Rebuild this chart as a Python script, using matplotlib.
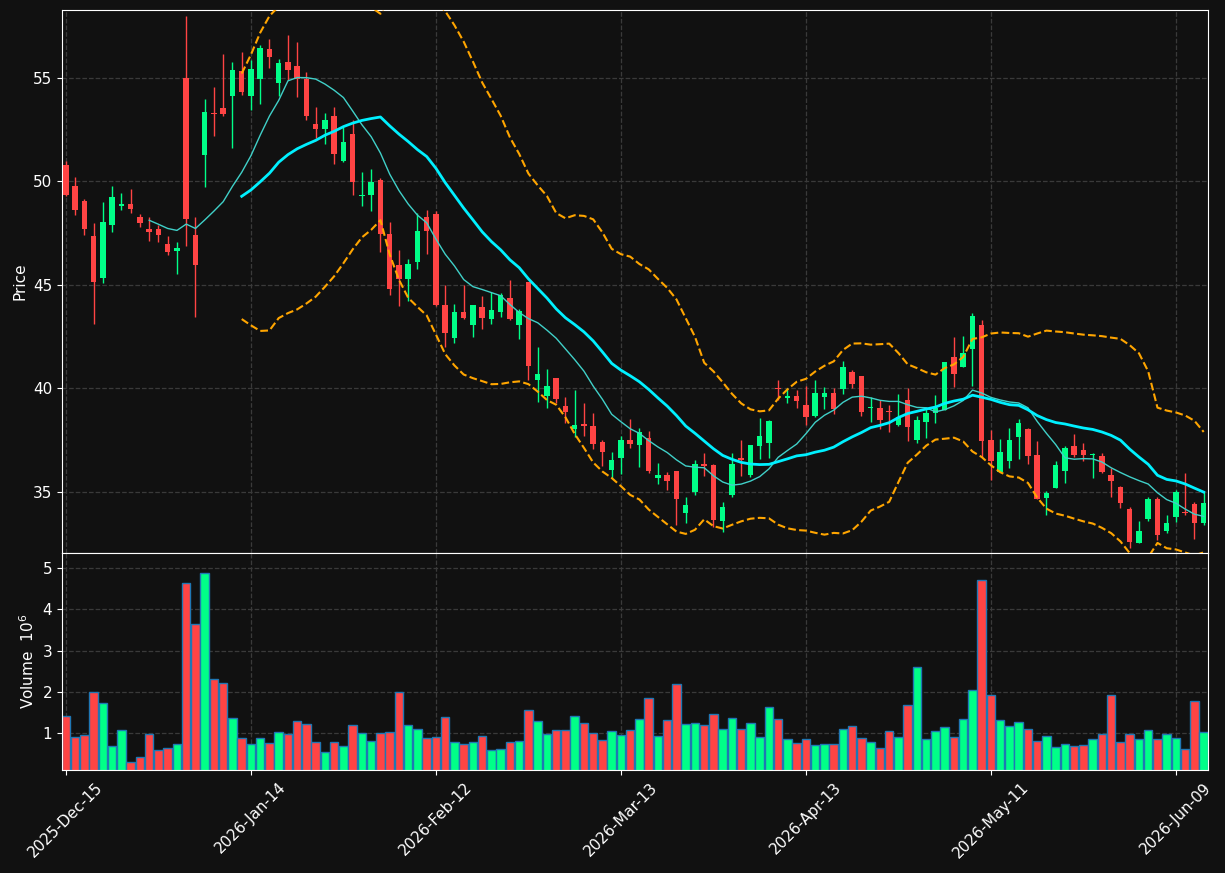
import matplotlib
matplotlib.use("Agg")
import matplotlib.pyplot as plt
import numpy as np
import pandas as pd

# trading days (NYSE calendar) starting 2025-12-15
holidays = ["2025-12-25", "2026-01-01", "2026-01-19", "2026-02-16", "2026-04-03", "2026-05-25"]
dates = pd.bdate_range("2025-12-15", "2026-06-12")
dates = dates[~dates.isin(pd.to_datetime(holidays))]

opens = [50.77, 49.80, 49.03, 47.38, 45.32, 47.88, 48.80, 48.93, 48.30, 47.72,
         47.72, 47.00, 46.63, 55.00, 47.42, 51.26, 53.31, 53.55, 54.11, 55.34,
         54.11, 54.94, 56.42, 54.74, 55.76, 55.60, 54.94, 52.79, 52.55, 53.18,
         50.97, 52.31, 49.28, 49.33, 50.09, 47.48, 45.98, 45.27, 46.10, 48.30,
         48.42, 44.03, 42.45, 43.69, 43.08, 43.93, 43.37, 43.69, 44.36, 43.08,
         45.14, 40.40, 39.63, 40.50, 39.15, 38.02, 38.28, 38.18, 37.41, 36.05,
         36.66, 37.50, 37.28, 37.60, 35.68, 35.81, 36.01, 33.98, 34.99, 36.34,
         36.30, 33.59, 34.85, 36.63, 35.83, 37.23, 37.38, 39.98, 39.55, 39.63,
         39.19, 38.68, 39.60, 39.76, 39.98, 40.79, 40.60, 39.07, 39.05, 38.90,
         38.23, 39.44, 37.50, 38.39, 38.82, 38.95, 41.51, 41.05, 41.92, 43.06,
         37.50, 35.97, 36.51, 37.63, 38.04, 36.78, 34.72, 35.20, 36.02, 37.21,
         37.02, 36.76, 36.73, 35.81, 35.23, 34.17, 32.54, 33.69, 34.65, 33.09,
         33.77, 34.02, 34.41, 33.51]
highs = [50.97, 50.22, 49.15, 48.00, 49.01, 49.78, 49.46, 49.64, 48.43, 48.30,
         47.88, 47.35, 47.08, 58.01, 48.29, 53.99, 54.57, 56.16, 55.77, 56.24,
         55.89, 56.61, 56.88, 55.92, 57.05, 56.74, 55.29, 53.60, 53.31, 53.60,
         52.63, 52.99, 50.46, 50.60, 50.17, 48.04, 46.71, 46.27, 48.48, 48.64,
         48.55, 45.02, 44.06, 45.02, 44.05, 44.46, 44.67, 44.59, 45.23, 43.82,
         45.16, 42.01, 40.92, 40.51, 39.57, 39.92, 39.28, 38.82, 37.50, 36.94,
         37.69, 38.50, 38.07, 37.94, 36.38, 35.97, 36.01, 34.77, 36.54, 36.86,
         36.34, 34.49, 36.86, 37.50, 37.27, 38.55, 38.47, 40.40, 40.00, 39.92,
         40.10, 40.43, 40.05, 40.00, 41.30, 40.89, 40.60, 39.57, 39.44, 39.18,
         39.71, 40.00, 38.68, 39.07, 39.69, 41.27, 42.46, 42.51, 43.62, 43.30,
         37.99, 37.54, 38.07, 38.52, 38.08, 37.44, 35.05, 36.51, 37.23, 37.78,
         37.34, 36.86, 36.86, 36.14, 35.28, 34.25, 33.59, 34.77, 34.77, 33.88,
         35.09, 35.89, 34.52, 35.01]
lows = [49.28, 48.37, 47.40, 43.09, 45.10, 47.56, 48.62, 48.49, 47.79, 47.11,
        47.08, 46.43, 45.53, 46.90, 43.43, 49.73, 52.20, 53.18, 51.62, 54.18,
        53.44, 53.74, 55.48, 54.15, 54.92, 54.08, 52.99, 52.10, 51.83, 50.85,
        50.95, 49.36, 48.80, 48.56, 46.59, 44.50, 43.97, 44.24, 45.77, 46.50,
        44.00, 42.01, 42.17, 43.33, 42.46, 42.85, 43.11, 43.43, 43.30, 42.37,
        40.40, 39.36, 39.03, 39.28, 38.31, 37.67, 37.71, 37.07, 36.25, 35.65,
        35.88, 37.10, 36.22, 35.93, 35.36, 35.09, 33.40, 33.48, 34.85, 35.78,
        33.29, 33.08, 34.77, 35.78, 35.73, 36.59, 36.62, 39.44, 39.28, 39.07,
        38.25, 38.63, 38.99, 38.74, 39.73, 40.00, 38.68, 38.39, 38.05, 37.91,
        38.20, 37.47, 37.34, 37.62, 38.31, 38.95, 40.05, 41.05, 40.11, 36.70,
        35.57, 35.97, 36.14, 36.57, 36.34, 34.67, 33.88, 35.20, 35.41, 36.67,
        36.47, 35.65, 35.92, 34.77, 34.20, 32.27, 32.51, 33.61, 32.68, 33.00,
        33.56, 33.88, 32.71, 33.39]
closes = [49.33, 48.61, 47.69, 45.13, 48.06, 49.27, 48.93, 48.69, 47.98, 47.54,
          47.40, 46.58, 46.76, 48.17, 45.95, 53.37, 53.24, 53.24, 55.39, 54.31,
          55.45, 56.47, 56.00, 55.74, 55.40, 54.95, 53.18, 52.54, 52.99, 51.31,
          51.92, 49.96, 49.36, 49.99, 47.46, 44.79, 45.27, 46.03, 47.62, 47.59,
          44.04, 42.69, 43.69, 43.41, 44.03, 43.41, 43.77, 44.52, 43.35, 43.75,
          41.10, 40.69, 40.11, 39.50, 38.87, 38.23, 38.20, 37.31, 36.94, 36.54,
          37.50, 37.29, 37.87, 36.02, 35.81, 35.54, 34.67, 34.36, 36.34, 36.26,
          33.64, 34.27, 36.34, 36.54, 37.26, 37.70, 38.42, 39.95, 39.63, 39.39,
          38.63, 39.76, 39.76, 38.99, 41.03, 40.23, 38.87, 39.11, 38.49, 38.85,
          38.63, 38.15, 38.47, 38.82, 39.07, 41.27, 40.71, 41.71, 43.49, 37.47,
          36.49, 36.92, 37.50, 38.33, 36.75, 34.67, 34.94, 36.30, 37.10, 36.80,
          36.76, 36.80, 35.97, 35.54, 34.48, 32.59, 33.11, 34.65, 32.90, 33.48,
          34.99, 33.98, 33.51, 34.46]
# volume in millions
volumes = [1.41, 0.91, 0.96, 2.00, 1.73, 0.68, 1.07, 0.29, 0.42, 0.98,
           0.59, 0.63, 0.73, 4.63, 3.64, 4.88, 2.32, 2.22, 1.37, 0.88,
           0.73, 0.88, 0.76, 1.02, 0.98, 1.29, 1.22, 0.78, 0.54, 0.78,
           0.68, 1.20, 1.00, 0.80, 1.00, 1.02, 2.00, 1.20, 1.10, 0.88,
           0.90, 1.39, 0.78, 0.73, 0.78, 0.93, 0.59, 0.61, 0.78, 0.80,
           1.56, 1.29, 0.98, 1.07, 1.07, 1.41, 1.24, 1.00, 0.83, 1.05,
           0.95, 1.07, 1.34, 1.85, 0.93, 1.32, 2.20, 1.22, 1.24, 1.20,
           1.46, 1.10, 1.37, 1.10, 1.24, 0.90, 1.63, 1.34, 0.85, 0.76,
           0.85, 0.71, 0.73, 0.73, 1.10, 1.17, 0.88, 0.78, 0.63, 1.05,
           0.90, 1.68, 2.59, 0.85, 1.05, 1.15, 0.90, 1.34, 2.05, 4.71,
           1.93, 1.32, 1.17, 1.27, 1.10, 0.80, 0.93, 0.66, 0.73, 0.68,
           0.71, 0.85, 0.98, 1.93, 0.78, 0.98, 0.85, 1.07, 0.85, 0.98,
           0.88, 0.61, 1.78, 1.02]

df = pd.DataFrame({"Open": opens, "High": highs, "Low": lows,
                   "Close": closes, "Volume": volumes}, index=dates[:len(opens)])

up_col = "#00ff88"
down_col = "#ff4444"
bg = "#111111"
fg = "white"

ma10 = df["Close"].rolling(10).mean()
ma20 = df["Close"].rolling(20).mean()
std20 = df["Close"].rolling(20).std()
upper = ma20 + 2 * std20
lower = ma20 - 2 * std20

x = np.arange(len(df))
is_up = df["Close"].values >= df["Open"].values
colors = np.where(is_up, up_col, down_col)

fig = plt.figure(figsize=(12.25, 8.73), dpi=100, facecolor=bg)
ax = fig.add_axes([0.0506, 0.3666, 0.9355, 0.6219], facecolor=bg)
axv = fig.add_axes([0.0506, 0.118, 0.9355, 0.2486], facecolor=bg, sharex=ax)

# candles
ax.vlines(x, df["Low"], df["High"], colors=colors, linewidth=1, zorder=2)
body_lo = np.minimum(df["Open"].values, df["Close"].values)
body_h = np.maximum(np.abs(df["Close"].values - df["Open"].values), 0.05)
ax.bar(x, body_h, bottom=body_lo, width=0.6, color=colors, linewidth=0, zorder=3)

# moving averages and bands
ax.plot(x, ma10, color="#40d0c8", linewidth=1, zorder=4)
ax.plot(x, ma20, color="#00f0ff", linewidth=2, zorder=4)
ax.plot(x, upper, color="orange", linestyle="--", linewidth=1.5, zorder=4)
ax.plot(x, lower, color="orange", linestyle="--", linewidth=1.5, zorder=4)

# volume
axv.bar(x, df["Volume"], width=0.92, color=colors, edgecolor="#1f77b4", linewidth=1)

ax.set_xlim(-0.43, len(df) - 0.54)
ax.set_ylim(32.05, 58.28)
axv.set_ylim(0.1, 5.37)
ax.set_yticks([35, 40, 45, 50, 55])
axv.set_yticks([1, 2, 3, 4, 5])

tick_idx = list(range(0, len(df), 20))
axv.set_xticks(tick_idx)
axv.set_xticklabels([df.index[i].strftime("%Y-%b-%d") for i in tick_idx],
                    rotation=45, ha="center")
plt.setp(ax.get_xticklabels(), visible=False)

ax.set_ylabel("Price", color=fg, fontsize=11)
axv.set_ylabel("Volume  $10^6$", color=fg, fontsize=11)

for a in (ax, axv):
    a.grid(True, color="#3a3a3a", linestyle="--", linewidth=0.9)
    a.set_axisbelow(True)
    a.tick_params(colors=fg, labelsize=11)
    for s in a.spines.values():
        s.set_color(fg)

fig.savefig("out.png", dpi=100, facecolor=bg)
